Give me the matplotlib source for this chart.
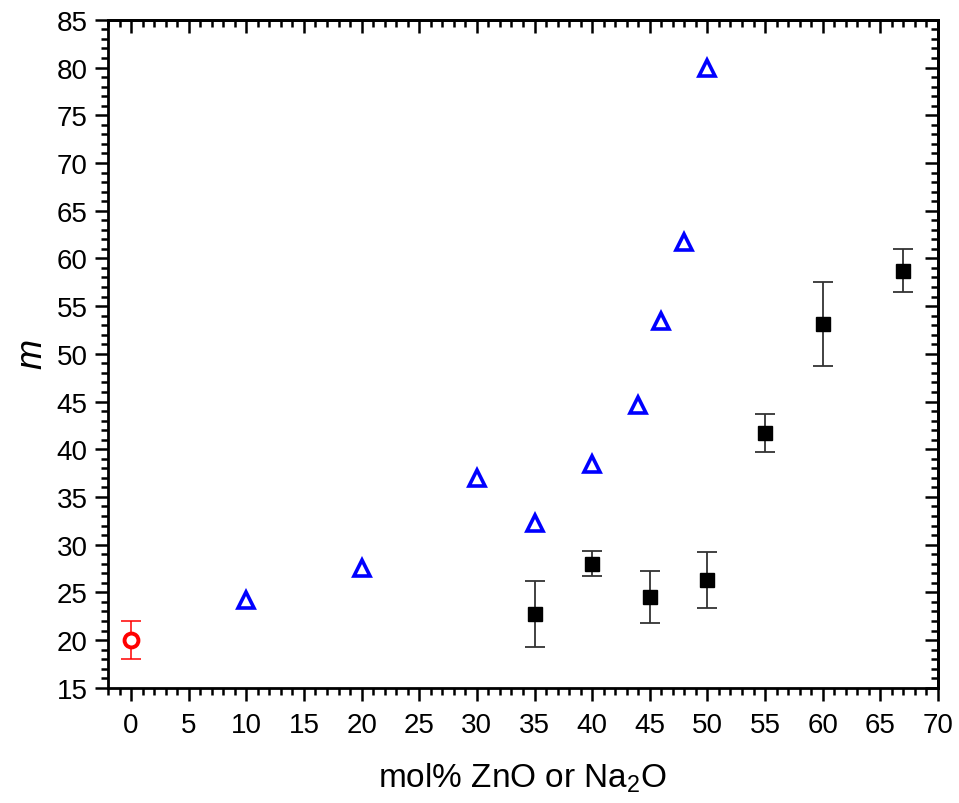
import matplotlib
matplotlib.use("Agg")
import matplotlib.pyplot as plt
from matplotlib.ticker import MultipleLocator

plt.rcParams['font.family'] = ['Liberation Sans', 'DejaVu Sans']
plt.rcParams['mathtext.fontset'] = 'custom'
plt.rcParams['mathtext.rm'] = 'Liberation Sans'
plt.rcParams['mathtext.it'] = 'Liberation Sans:italic'

# Data
ref_x = [0]
ref_y = [20.0]
ref_err = [2.0]

tri_x = [10, 20, 30, 35, 40, 44, 46, 48, 50]
tri_y = [24.2, 27.6, 37.0, 32.3, 38.5, 44.6, 53.4, 61.7, 80.0]

sq_x = [35, 40, 45, 50, 55, 60, 67]
sq_y = [22.7, 28.0, 24.5, 26.3, 41.7, 53.1, 58.7]
sq_err = [3.45, 1.3, 2.75, 2.9, 2.0, 4.4, 2.25]

fig = plt.figure(figsize=(9.59, 8.04), dpi=100)
ax = fig.add_axes([0.1126, 0.1433, 0.8655, 0.8308])

ax.errorbar(sq_x, sq_y, yerr=sq_err, fmt='s', color='black', ms=10,
            ecolor='#333333', elinewidth=1.3, capsize=7, capthick=1.3, zorder=3)
ax.plot(tri_x, tri_y, '^', ms=12, mfc='none', mec='#0000ff', mew=2.6, zorder=4)
ax.errorbar(ref_x, ref_y, yerr=ref_err, fmt='none', ecolor='red',
            elinewidth=1.1, capsize=7, capthick=1.1, zorder=4)
ax.plot(ref_x, ref_y, 'o', ms=10, mfc='white', mec='red', mew=2.8, zorder=5)

ax.set_xlim(-2, 70)
ax.set_ylim(15, 85)
ax.xaxis.set_major_locator(MultipleLocator(5))
ax.xaxis.set_minor_locator(MultipleLocator(1))
ax.yaxis.set_major_locator(MultipleLocator(5))
ax.yaxis.set_minor_locator(MultipleLocator(1))

for s in ax.spines.values():
    s.set_linewidth(2)

ax.tick_params(which='both', bottom=True, left=True, top=False, right=False,
               direction='out', width=1.8, labelsize=20)
ax.tick_params(which='major', length=9.5)
ax.tick_params(which='minor', length=5)
ax.tick_params(axis='x', pad=8)
ax.tick_params(axis='y', pad=5)

# inward ticks on top and right
axt = ax.secondary_xaxis('top')
axt.xaxis.set_major_locator(MultipleLocator(5))
axt.xaxis.set_minor_locator(MultipleLocator(1))
axt.tick_params(which='both', direction='in', width=1.8, labeltop=False)
axt.tick_params(which='major', length=9.5)
axt.tick_params(which='minor', length=5)
axt.spines['top'].set_linewidth(2)

axr = ax.secondary_yaxis('right')
axr.yaxis.set_major_locator(MultipleLocator(5))
axr.yaxis.set_minor_locator(MultipleLocator(1))
axr.tick_params(which='both', direction='in', width=1.8, labelright=False)
axr.tick_params(which='major', length=9.5)
axr.tick_params(which='minor', length=5)
axr.spines['right'].set_linewidth(2)

ax.set_xlabel('mol% ZnO or Na$_2$O', fontsize=24, labelpad=16)
ax.set_ylabel('$m$', fontsize=26, labelpad=5)

fig.savefig('out.png', dpi=100, facecolor='white')
